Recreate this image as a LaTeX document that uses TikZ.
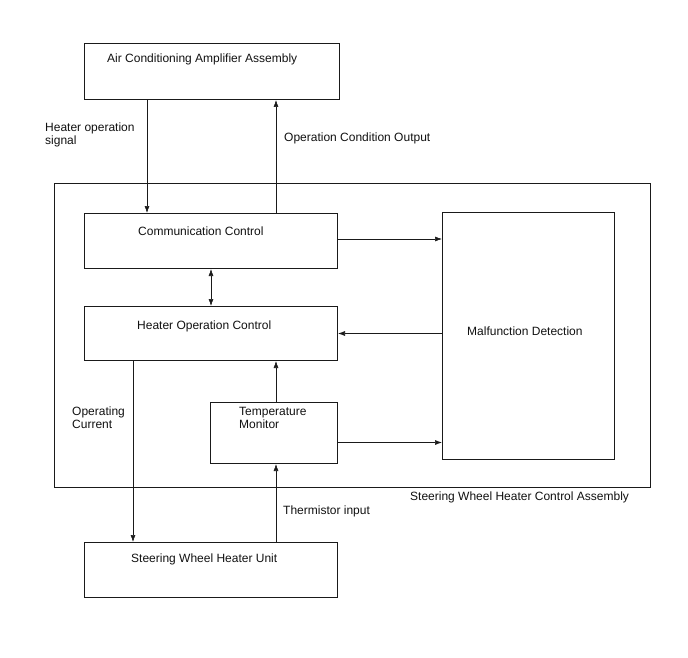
\documentclass[tikz,border=0pt]{standalone}
\usepackage{fontspec}
\setmainfont{Liberation Sans}
\usetikzlibrary{positioning, arrows.meta}
\definecolor{clrborder}{HTML}{1A1A1A}
\definecolor{clrtext}{HTML}{111111}

\begin{document}
\begin{tikzpicture}[
    x=1pt, y=-1pt,
    every node/.style={font=\fontsize{12}{13}\selectfont, text=clrtext},
    box/.style={draw=clrborder, line width=1pt, inner sep=0, anchor=north west},
    lbl/.style={inner sep=0, anchor=west, align=left},
    arrow/.style={-{Latex[length=7pt, width=5pt]}, color=clrborder, line width=0.6pt},
    darrow/.style={{Latex[length=7pt, width=5pt]}-{Latex[length=7pt, width=5pt]}, color=clrborder, line width=0.6pt},
]
\useasboundingbox (0,0) rectangle (688,658);
% blocks
\node[box, minimum width=255pt, minimum height=56pt] (ac) at (84,43) {};
\node[box, minimum width=596pt, minimum height=304pt] (ctl) at (54,183) {};
\node[box, minimum width=253pt, minimum height=55pt] (comm) at (84,213) {};
\node[box, minimum width=253pt, minimum height=54pt] (heat) at (84,306) {};
\node[box, minimum width=172pt, minimum height=247pt] (mal) at (442,212) {};
\node[box, minimum width=127pt, minimum height=61pt] (temp) at (210,402) {};
\node[box, minimum width=253pt, minimum height=55pt] (swh) at (84,542) {};
% block texts
\node[lbl] (ac_t) at (107,59) {Air Conditioning Amplifier Assembly};
\node[lbl] (comm_t) at (138,231) {Communication Control};
\node[lbl] (heat_t) at (137,326) {Heater Operation Control};
\node[lbl] (mal_t) at (467,331) {Malfunction Detection};
\node[lbl] (temp_t) at (239,417.5) {Temperature\\Monitor};
\node[lbl] (swh_t) at (131,559) {Steering Wheel Heater Unit};
\node[lbl] (ctl_t) at (410,497) {Steering Wheel Heater Control Assembly};
% signal labels
\node[lbl] (sig_t) at (45,134.5) {Heater operation\\signal};
\node[lbl] (out_t) at (284,138) {Operation Condition Output};
\node[lbl] (cur_t) at (72,417.5) {Operating\\Current};
\node[lbl] (thm_t) at (283,511) {Thermistor input};
% connectors
\draw[arrow] ([xshift=63pt]ac.south west) -- ([xshift=63pt]comm.north west);
\draw[arrow] ([xshift=192pt]comm.north west) -- ([xshift=192pt]ac.south west);
\draw[arrow] ([yshift=2pt]comm.east) -- ([yshift=2pt]comm.east -| mal.west);
\draw[darrow] ([xshift=127pt]comm.south west) -- ([xshift=127pt]heat.north west);
\draw[arrow] (heat.east -| mal.west) -- (heat.east);
\draw[arrow] ([xshift=66pt]temp.north west) -- ([xshift=192pt]heat.south west);
\draw[arrow] ([yshift=-9.5pt]temp.east) -- ([yshift=-9.5pt]temp.east -| mal.west);
\draw[arrow] ([xshift=49pt]heat.south west) -- ([xshift=49pt]swh.north west);
\draw[arrow] ([xshift=192pt]swh.north west) -- ([xshift=66pt]temp.south west);
\end{tikzpicture}
\end{document}
